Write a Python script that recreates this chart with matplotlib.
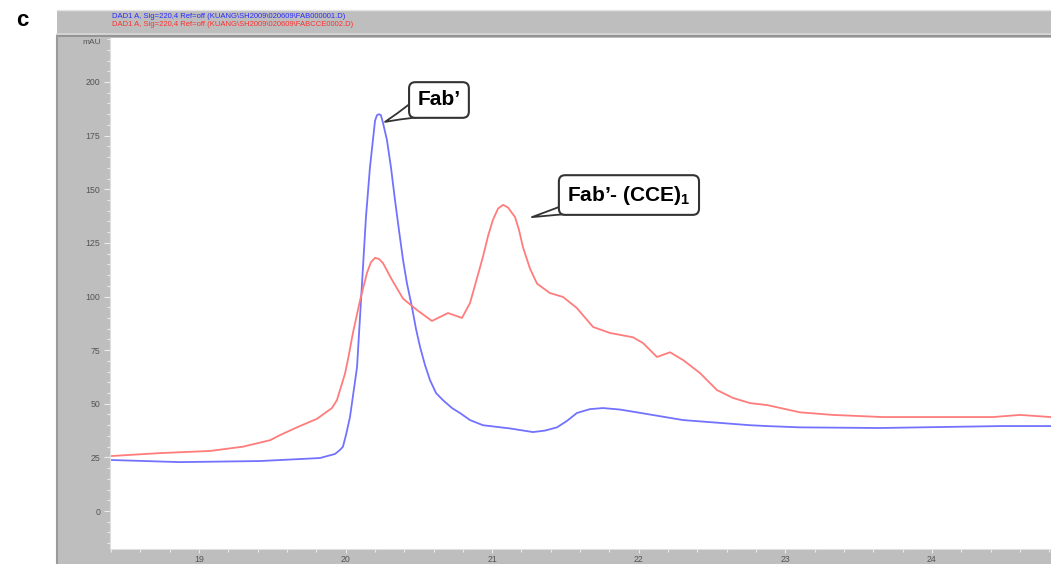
import matplotlib.pyplot as plt
from matplotlib.patches import Rectangle
from matplotlib.ticker import MultipleLocator

# retention time (min) / absorbance (mAU)
t_fab = [18.393, 18.870, 19.416, 19.825, 19.928, 19.962, 19.982, 20.003, 20.030, 20.078,
         20.119, 20.139, 20.166, 20.201, 20.214, 20.228, 20.241, 20.255, 20.282, 20.310,
         20.337, 20.364, 20.392, 20.419, 20.453, 20.480, 20.508, 20.542, 20.576, 20.617,
         20.664, 20.726, 20.780, 20.849, 20.937, 21.121, 21.278, 21.360, 21.442, 21.510,
         21.578, 21.667, 21.756, 21.872, 21.988, 22.302, 22.759, 22.875, 23.100, 23.645,
         23.918, 24.464, 24.812]
a_fab = [23.8, 22.8, 23.3, 24.7, 26.6, 28.5, 30.0, 35.5, 43.8, 67.0,
         114.0, 137.0, 160.0, 182.0, 184.5, 185.0, 184.5, 181.0, 173.0, 160.0,
         145.0, 131.0, 117.0, 106.0, 95.0, 85.0, 76.5, 68.0, 61.0, 55.0,
         51.7, 48.0, 45.7, 42.4, 40.0, 38.5, 36.8, 37.5, 39.0, 42.0,
         45.7, 47.5, 48.0, 47.3, 46.0, 42.4, 40.0, 39.6, 39.0, 38.7,
         39.0, 39.6, 39.6]

t_cce = [18.393, 18.734, 19.075, 19.300, 19.484, 19.553, 19.668, 19.805, 19.907,
         19.941, 19.996, 20.023, 20.050, 20.098, 20.146, 20.173, 20.201, 20.228, 20.255,
         20.317, 20.392, 20.487, 20.589, 20.699, 20.794, 20.849, 20.937, 20.971, 21.005,
         21.040, 21.074, 21.108, 21.156, 21.183, 21.210, 21.258, 21.306, 21.394, 21.483,
         21.578, 21.688, 21.804, 21.960, 22.029, 22.124, 22.213, 22.302, 22.418, 22.533,
         22.643, 22.759, 22.875, 23.100, 23.325, 23.666, 24.416, 24.600, 24.812]
a_cce = [25.6, 27.0, 28.0, 30.0, 33.0, 35.4, 39.0, 43.0, 48.0,
         51.7, 64.0, 73.0, 83.0, 98.0, 111.0, 116.0, 118.0, 117.5, 115.6,
         107.7, 99.0, 93.7, 88.6, 92.3, 90.0, 97.0, 118.5, 128.0, 135.7,
         141.0, 142.7, 141.5, 137.0, 131.0, 123.0, 113.0, 106.0, 101.6, 99.8,
         94.6, 85.8, 83.0, 81.0, 78.3, 71.8, 74.0, 70.4, 64.3, 56.4,
         52.7, 50.3, 49.4, 46.0, 44.8, 43.8, 43.8, 44.8, 43.8]

x_ticks = [19, 20, 21, 22, 23, 24]
y_ticks = [0, 25, 50, 75, 100, 125, 150, 175, 200]

W, H = 1051, 564
fig = plt.figure(figsize=(W / 100, H / 100), dpi=100)
plt.rcParams['font.family'] = ['Liberation Sans', 'DejaVu Sans']
plt.rcParams['mathtext.fontset'] = 'custom'
plt.rcParams['mathtext.rm'] = 'Liberation Sans'
plt.rcParams['mathtext.bf'] = 'Liberation Sans:bold'

# grey instrument frame behind the axes
fig.patches.append(Rectangle((57 / W, 0), 1 - 57 / W, 1 - 10 / H,
                             transform=fig.transFigure, fc='#bebebe', ec='none', zorder=-5))
fig.add_artist(plt.Line2D([57 / W, 1], [1 - 10 / H] * 2, color='#e4e4e4', lw=1, zorder=-4))
fig.add_artist(plt.Line2D([57 / W, 1], [1 - 33.5 / H] * 2, color='#d8d8d8', lw=1.2, zorder=-4))
fig.add_artist(plt.Line2D([57 / W, 1], [1 - 35.5 / H] * 2, color='#8c8c8c', lw=1.2, zorder=-4))
fig.add_artist(plt.Line2D([57 / W, 57 / W], [0, 1 - 36 / H], color='#9a9a9a', lw=1.5, zorder=-4))

fig.text(22 / W, 1 - 20 / H, 'c', fontsize=16, fontweight='bold', ha='center', va='center')
fig.text(112 / W, 1 - 16 / H, r'DAD1 A, Sig=220,4 Ref=off (KUANG\SH2009\020609\FAB000001.D)',
         fontsize=5.5, color='#2a2aff', va='center')
fig.text(112 / W, 1 - 25 / H, r'DAD1 A, Sig=220,4 Ref=off (KUANG\SH2009\020609\FABCCE0002.D)',
         fontsize=5.5, color='#ff3030', va='center')

ax = fig.add_axes([110 / W, 15 / H, (W - 110) / W, (549 - 38) / H])
ax.set_facecolor('white')
ax.plot(t_fab, a_fab, color='#7272ff', lw=1.3)
ax.plot(t_cce, a_cce, color='#ff7c7c', lw=1.3)

ax.set_xlim(18.393, 24.812)
ax.set_ylim(-17.7, 220.5)
ax.set_xticks(x_ticks)
ax.set_yticks(y_ticks)
ax.xaxis.set_minor_locator(MultipleLocator(0.2))
ax.yaxis.set_minor_locator(MultipleLocator(5))
ax.tick_params(which='both', direction='out', color='#ececec', labelsize=6.3,
               labelcolor='#555555', width=0.8)
ax.tick_params(which='major', length=4, pad=3)
ax.tick_params(which='minor', length=2.5)
ax.tick_params(axis='x', which='major', length=3, pad=1)
for s in ax.spines.values():
    s.set_visible(False)
ax.spines['left'].set_visible(True)
ax.spines['left'].set_color('#e0e0e0')
ax.spines['bottom'].set_visible(True)
ax.spines['bottom'].set_color('#e0e0e0')
fig.text(92 / W, 1 - 43 / H, 'mAU', fontsize=6, color='#555555', ha='center', va='center')

# speech-bubble callouts: the wedge starts under the box, so the box hides its base
box = dict(boxstyle='round,pad=0.4,rounding_size=0.3', fc='white', ec='#333333', lw=1.5)
wedge = dict(arrowstyle='wedge,tail_width=1.5,shrink_factor=0.45', fc='white',
             ec='#333333', lw=1.3, patchA=None, shrinkA=0, shrinkB=0)
ax.annotate("Fab\u2019", xy=(20.269, 181.4), xytext=(20.637, 191.6),
            fontsize=15, fontweight='bold', ha='center', va='center',
            bbox=box, arrowprops=wedge, zorder=5)
ax.annotate("Fab\u2019- (CCE)$_\\mathbf{1}$", xy=(21.271, 137), xytext=(21.933, 147.3),
            fontsize=15, fontweight='bold', ha='center', va='center',
            bbox=box, arrowprops=wedge, zorder=5)

fig.savefig('out.png', dpi=100)
